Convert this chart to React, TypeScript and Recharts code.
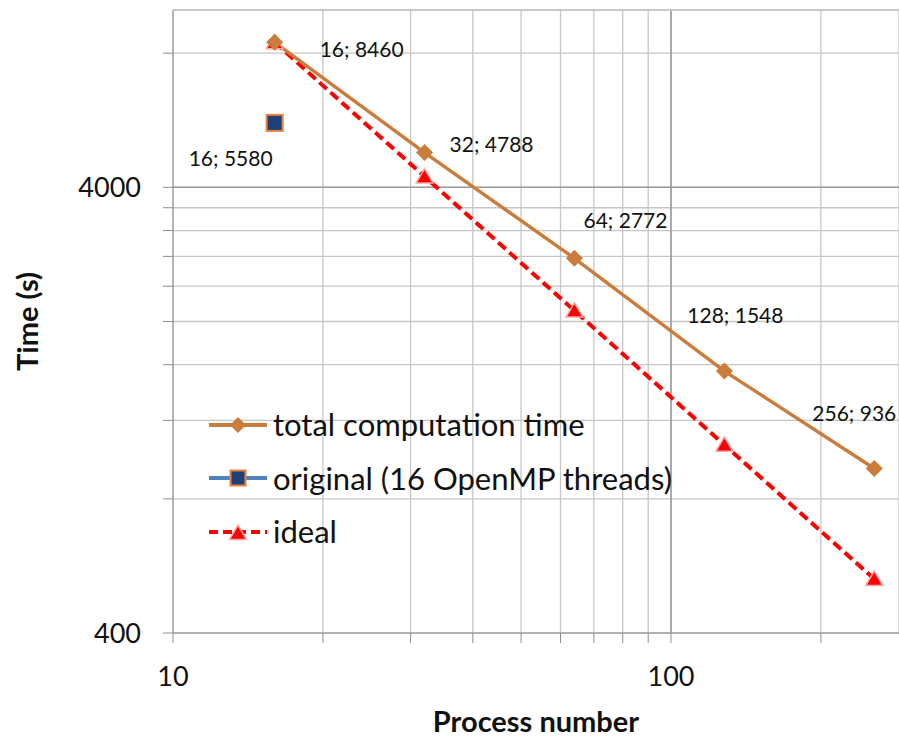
import React from "react";
import {
  CartesianGrid,
  LabelList,
  Legend,
  Line,
  LineChart,
  ReferenceLine,
  XAxis,
  YAxis
} from "recharts";

// values (log-log)
const processes = [16, 32, 64, 128, 256];
const totalTime = [8460, 4788, 2772, 1548, 936];
const originalProcesses = [16];
const originalTime = [5580];
const idealTime = [8460, 4230, 2115, 1057.5, 528.75];

const xTicks = [10, 20, 30, 40, 50, 60, 70, 80, 90, 100, 200];
const yTicks = [400, 800, 1200, 1600, 2000, 2400, 2800, 3200, 3600, 4000, 8000];
const xTickLabels = [10, 100];
const yTickLabels = [400, 4000];

const FONT = "Lato, 'Open Sans', sans-serif";
const ORANGE = "#CB7C3A";
const NAVY = "#1F3F78";
const BLUE = "#4F81BD";
const RED = "#FF0000";

const totalData = processes.map((x, i) => ({ x, y: totalTime[i] }));
const originalData = originalProcesses.map((x, i) => ({ x, y: originalTime[i] }));
const idealData = processes.map((x, i) => ({ x, y: idealTime[i] }));

// label nudges (dx, dy) relative to each point
const totalLabelShift = [
  [87, 6],
  [67, -9],
  [51, -39],
  [11, -57],
  [-20, -56]
];
const originalLabelShift = [[-44, 35]];

const diamond = (cx: number, cy: number, r: number, fill: string, key?: string) => (
  <polygon key={key} points={`${cx},${cy - r} ${cx + r},${cy} ${cx},${cy + r} ${cx - r},${cy}`} fill={fill} />
);
const square = (cx: number, cy: number, s: number, key?: string) => (
  <rect key={key} x={cx - s / 2} y={cy - s / 2} width={s} height={s} fill={NAVY} stroke="#E8823A" strokeWidth={2} />
);
const triangle = (cx: number, cy: number, r: number, key?: string) => (
  <polygon
    key={key}
    points={`${cx},${cy - r} ${cx + r * 1.05},${cy + r * 0.8} ${cx - r * 1.05},${cy + r * 0.8}`}
    fill={RED}
    stroke="#FFA8A8"
    strokeWidth={1.5}
  />
);

const makeLabel = (xs: number[], shifts: number[][]) => (props: any) => {
  const { x, y, value, index } = props;
  const [dx, dy] = shifts[index] || [0, 0];
  return (
    <text
      x={x + dx}
      y={y + dy}
      textAnchor="middle"
      dominantBaseline="central"
      fontFamily={FONT}
      fontSize={21}
      fill="#111"
    >
      {`${xs[index]}; ${value}`}
    </text>
  );
};

function LegendBox() {
  const rows = [
    { name: "total computation time", icon: "total" },
    { name: "original (16 OpenMP threads)", icon: "original" },
    { name: "ideal", icon: "ideal" }
  ];
  return (
    <div style={{ fontFamily: FONT, fontSize: 31, color: "#111", lineHeight: 1 }}>
      {rows.map((r) => (
        <div key={r.name} style={{ display: "flex", alignItems: "center", height: 53.5 }}>
          <svg width={66} height={30} style={{ marginRight: 2 }}>
            {r.icon === "total" && (
              <>
                <line x1={4} y1={15} x2={62} y2={15} stroke={ORANGE} strokeWidth={4} />
                {diamond(33, 15, 8, ORANGE)}
              </>
            )}
            {r.icon === "original" && (
              <>
                <line x1={4} y1={15} x2={62} y2={15} stroke={BLUE} strokeWidth={4} />
                {square(33, 15, 15)}
              </>
            )}
            {r.icon === "ideal" && (
              <>
                <line x1={4} y1={15} x2={62} y2={15} stroke={RED} strokeWidth={4} strokeDasharray="9 5" />
                {triangle(33, 16, 8)}
              </>
            )}
          </svg>
          <span>{r.name}</span>
        </div>
      ))}
    </div>
  );
}

export default function App() {
  return (
    <div style={{ position: "absolute", left: 0, top: 0, width: 899, height: 740, background: "#fff" }}>
      <LineChart width={899} height={740} margin={{ top: 10, right: 0, bottom: 0, left: 0 }}>
        <CartesianGrid stroke="#C6C6C6" strokeWidth={1.3} />
        <XAxis
          type="number"
          dataKey="x"
          scale="log"
          domain={[10, 287]}
          allowDataOverflow
          ticks={xTicks}
          interval={0}
          height={107}
          tickSize={10}
          tickMargin={24}
          stroke="#8E8E8E"
          tickLine={{ stroke: "#8E8E8E" }}
          tick={{ fill: "#111", fontSize: 27, fontFamily: FONT }}
          tickFormatter={(v: number) => (xTickLabels.includes(v) ? String(v) : "")}
          label={{
            value: "Process number",
            position: "insideBottom",
            offset: 8,
            style: { fontFamily: FONT, fontSize: 29, fontWeight: 700, fill: "#111" }
          }}
        />
        <YAxis
          type="number"
          dataKey="y"
          scale="log"
          domain={[400, 10000]}
          allowDataOverflow
          ticks={yTicks}
          interval={0}
          width={173}
          tickSize={10}
          tickMargin={22}
          stroke="#8E8E8E"
          tickLine={{ stroke: "#8E8E8E" }}
          tick={{ fill: "#111", fontSize: 27, fontFamily: FONT }}
          tickFormatter={(v: number) => (yTickLabels.includes(v) ? String(v) : "")}
          label={{
            value: "Time (s)",
            angle: -90,
            position: "insideLeft",
            offset: 28,
            style: { fontFamily: FONT, fontSize: 29, fontWeight: 700, fill: "#111", textAnchor: "middle" }
          }}
        />
        <ReferenceLine x={100} stroke="#9A9A9A" strokeWidth={1.5} />
        <ReferenceLine y={4000} stroke="#9A9A9A" strokeWidth={1.5} />
        <ReferenceLine y={10000} stroke="#C6C6C6" strokeWidth={1.3} />
        <Legend
          layout="vertical"
          align="center"
          verticalAlign="middle"
          wrapperStyle={{ left: 205, top: 398, width: 560 }}
          content={() => <LegendBox />}
        />
        <Line
          data={idealData}
          dataKey="y"
          name="ideal"
          stroke={RED}
          strokeWidth={4}
          strokeDasharray="10 5"
          isAnimationActive={false}
          dot={(p: any) => triangle(p.cx, p.cy, 8, `t-${p.index}`)}
        />
        <Line
          data={totalData}
          dataKey="y"
          name="total computation time"
          stroke={ORANGE}
          strokeWidth={3.4}
          isAnimationActive={false}
          dot={(p: any) => diamond(p.cx, p.cy, 8.5, ORANGE, `d-${p.index}`)}
        >
          <LabelList dataKey="y" content={makeLabel(processes, totalLabelShift)} />
        </Line>
        <Line
          data={originalData}
          dataKey="y"
          name="original (16 OpenMP threads)"
          stroke={BLUE}
          strokeWidth={3}
          isAnimationActive={false}
          dot={(p: any) => square(p.cx, p.cy, 16, `s-${p.index}`)}
        >
          <LabelList dataKey="y" content={makeLabel(originalProcesses, originalLabelShift)} />
        </Line>
      </LineChart>
    </div>
  );
}
